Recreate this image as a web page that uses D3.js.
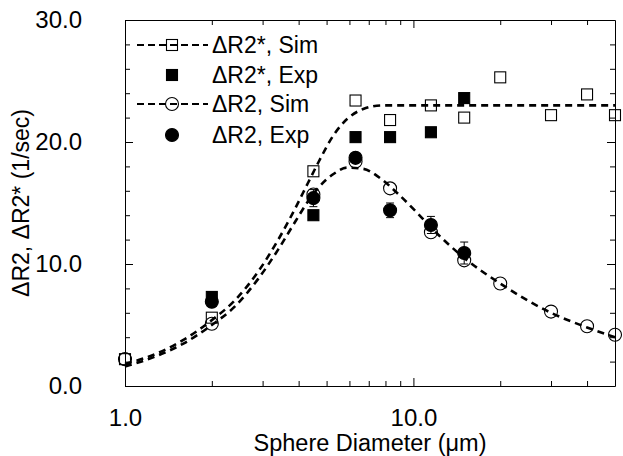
<!DOCTYPE html>
<html>
<head>
<meta charset="utf-8">
<script src="https://cdn.jsdelivr.net/npm/d3@7"></script>
<style>
  body { margin: 0; background: #fff; }
  svg { display: block; font-family: "Liberation Sans", Arial, Helvetica, sans-serif; }
</style>
</head>
<body>
<div id="chart"></div>
<script>
// simulated points (open symbols)
const simDia = [1.0, 2.0, 4.5, 6.3, 8.3, 11.5, 15, 20, 30, 40, 50];
const r2StarSim = [2.2, 5.6, 17.6, 23.4, 21.8, 23.0, 22.0, 25.3, 22.2, 23.9, 22.2];
const r2Sim = [2.2, 5.1, 15.7, 18.4, 16.2, 12.6, 10.3, 8.4, 6.1, 4.9, 4.2];

// experimental points (filled symbols)
const expDia = [2.0, 4.5, 6.3, 8.3, 11.5, 15];
const r2StarExp = [7.3, 14.0, 20.4, 20.4, 20.8, 23.6];
const r2Exp = [6.9, 15.4, 18.7, 14.4, 13.2, 10.9];
const r2ExpErr = [0, 0.7, 0, 0.6, 0.7, 0.9];

// dashed fit curves
const fitDia = [1, 1.3, 1.6, 2, 2.4, 2.9, 3.4, 3.9, 4.3, 4.7, 5.3, 5.9, 6.7, 7.8, 8.8, 10.3, 11.5, 15, 20, 30, 40, 50];
const r2StarFit = [1.8, 2.7, 3.8, 5.4, 7.0, 9.4, 12.0, 14.6, 16.6, 18.4, 20.6, 21.9, 22.7, 23.0, 23.0, 23.0, 23.0, 23.0, 23.0, 23.0, 23.0, 23.0];
const r2Fit = [1.6, 2.5, 3.5, 5.0, 6.5, 8.8, 11.2, 13.5, 15.1, 16.3, 17.4, 17.9, 17.8, 16.9, 15.8, 14.2, 13.0, 10.5, 8.4, 6.0, 4.8, 4.0];

const yMajor = [0, 10, 20, 30];
const yMinor = [2, 4, 6, 8, 12, 14, 16, 18, 22, 24, 26, 28];
const xMajor = [1, 10];
const xMinor = [2, 3, 4, 5, 6, 7, 8, 9, 20, 30, 40];

const legendItems = [
  { label: "\u0394R2*, Sim", kind: "sq-open", line: true },
  { label: "\u0394R2*, Exp", kind: "sq-fill", line: false },
  { label: "\u0394R2, Sim", kind: "ci-open", line: true },
  { label: "\u0394R2, Exp", kind: "ci-fill", line: false }
];

const width = 623, height = 456;
const margin = { top: 20, right: 8, bottom: 70, left: 125 };
const fs = 23;

const svg = d3.select("#chart").append("svg")
  .attr("width", width).attr("height", height);

const x = d3.scaleLog().domain([1, 50]).range([margin.left, width - margin.right]);
const y = d3.scaleLinear().domain([0, 30]).range([height - margin.bottom, margin.top]);

const x0 = margin.left, x1 = width - margin.right;
const y0 = height - margin.bottom, y1 = margin.top;

// --- axes, ticks pointing inward on all four sides ---
function styleAxis(g) {
  g.selectAll("path, line").attr("stroke", "#000").attr("stroke-width", 1);
  g.selectAll("text").attr("font-size", 24).attr("fill", "#000").attr("font-family", null);
}

svg.append("g").attr("transform", `translate(${x0},0)`)
  .call(d3.axisLeft(y).tickValues(yMajor).tickFormat(d3.format(".1f"))
    .tickSize(-8).tickSizeOuter(0).tickPadding(43))
  .call(styleAxis);
svg.append("g").attr("transform", `translate(${x0},0)`)
  .call(d3.axisLeft(y).tickValues(yMinor).tickFormat("").tickSize(-5).tickSizeOuter(0))
  .call(g => g.select(".domain").remove()).call(styleAxis);

svg.append("g").attr("transform", `translate(${x1},0)`)
  .call(d3.axisRight(y).tickValues(yMajor).tickFormat("").tickSize(-8).tickSizeOuter(0))
  .call(styleAxis);
svg.append("g").attr("transform", `translate(${x1},0)`)
  .call(d3.axisRight(y).tickValues(yMinor).tickFormat("").tickSize(-5).tickSizeOuter(0))
  .call(g => g.select(".domain").remove()).call(styleAxis);

svg.append("g").attr("transform", `translate(0,${y0})`)
  .call(d3.axisBottom(x).tickValues(xMajor).tickFormat(d3.format(".1f"))
    .tickSize(-8).tickSizeOuter(0).tickPadding(23))
  .call(styleAxis);
svg.append("g").attr("transform", `translate(0,${y0})`)
  .call(d3.axisBottom(x).tickValues(xMinor).tickFormat("").tickSize(-5).tickSizeOuter(0))
  .call(g => g.select(".domain").remove()).call(styleAxis);

svg.append("g").attr("transform", `translate(0,${y1})`)
  .call(d3.axisTop(x).tickValues(xMajor).tickFormat("").tickSize(-8).tickSizeOuter(0))
  .call(styleAxis);
svg.append("g").attr("transform", `translate(0,${y1})`)
  .call(d3.axisTop(x).tickValues(xMinor).tickFormat("").tickSize(-5).tickSizeOuter(0))
  .call(g => g.select(".domain").remove()).call(styleAxis);

// axis titles
svg.append("text")
  .attr("x", (x0 + x1) / 2).attr("y", 451)
  .attr("text-anchor", "middle").attr("font-size", 23.5)
  .text("Sphere Diameter (\u03bcm)");

svg.append("text")
  .attr("transform", `translate(29,${(y0 + y1) / 2}) rotate(-90)`)
  .attr("text-anchor", "middle").attr("font-size", fs)
  .text("\u0394R2, \u0394R2* (1/sec)");

// --- fit curves ---
const line = d3.line()
  .x(d => x(d[0])).y(d => y(d[1]))
  .curve(d3.curveMonotoneX);

const dash = "7,5";
[r2StarFit, r2Fit].forEach(vals => {
  svg.append("path")
    .datum(fitDia.map((d, i) => [d, vals[i]]))
    .attr("d", line)
    .attr("fill", "none").attr("stroke", "#000")
    .attr("stroke-width", 2.6).attr("stroke-dasharray", dash);
});

// --- markers ---
const sq = 11, rad = 6.5;
function marker(g, kind, cx, cy) {
  if (kind.startsWith("sq")) {
    g.append("rect")
      .attr("x", cx - sq / 2).attr("y", cy - sq / 2)
      .attr("width", sq).attr("height", sq)
      .attr("fill", kind === "sq-fill" ? "#000" : "none")
      .attr("stroke", "#000").attr("stroke-width", 1.1);
  } else {
    g.append("circle")
      .attr("cx", cx).attr("cy", cy).attr("r", rad)
      .attr("fill", kind === "ci-fill" ? "#000" : "none")
      .attr("stroke", "#000").attr("stroke-width", 1.1);
  }
}

const pts = svg.append("g");
simDia.forEach((d, i) => marker(pts, "sq-open", x(d), y(r2StarSim[i])));
simDia.forEach((d, i) => marker(pts, "ci-open", x(d), y(r2Sim[i])));
expDia.forEach((d, i) => marker(pts, "sq-fill", x(d), y(r2StarExp[i])));

// error bars for the experimental dR2 points
expDia.forEach((d, i) => {
  const e = r2ExpErr[i];
  if (!e) return;
  const cx = x(d);
  pts.append("line")
    .attr("x1", cx).attr("x2", cx)
    .attr("y1", y(r2Exp[i] - e)).attr("y2", y(r2Exp[i] + e))
    .attr("stroke", "#000").attr("stroke-width", 1);
  [r2Exp[i] - e, r2Exp[i] + e].forEach(v => {
    pts.append("line")
      .attr("x1", cx - 4).attr("x2", cx + 4)
      .attr("y1", y(v)).attr("y2", y(v))
      .attr("stroke", "#000").attr("stroke-width", 1);
  });
});
expDia.forEach((d, i) => marker(pts, "ci-fill", x(d), y(r2Exp[i])));

// --- legend ---
const legRows = [45, 75, 104, 135];
const leg = svg.append("g");
legendItems.forEach((it, i) => {
  const cy = legRows[i];
  if (it.line) {
    leg.append("line")
      .attr("x1", 137).attr("x2", 208).attr("y1", cy).attr("y2", cy)
      .attr("stroke", "#000").attr("stroke-width", 2.2).attr("stroke-dasharray", "7,4");
  }
  marker(leg, it.kind, 172, cy);
  leg.append("text")
    .attr("x", 212).attr("y", cy + 8)
    .attr("font-size", fs)
    .text(it.label);
});
</script>
</body>
</html>
